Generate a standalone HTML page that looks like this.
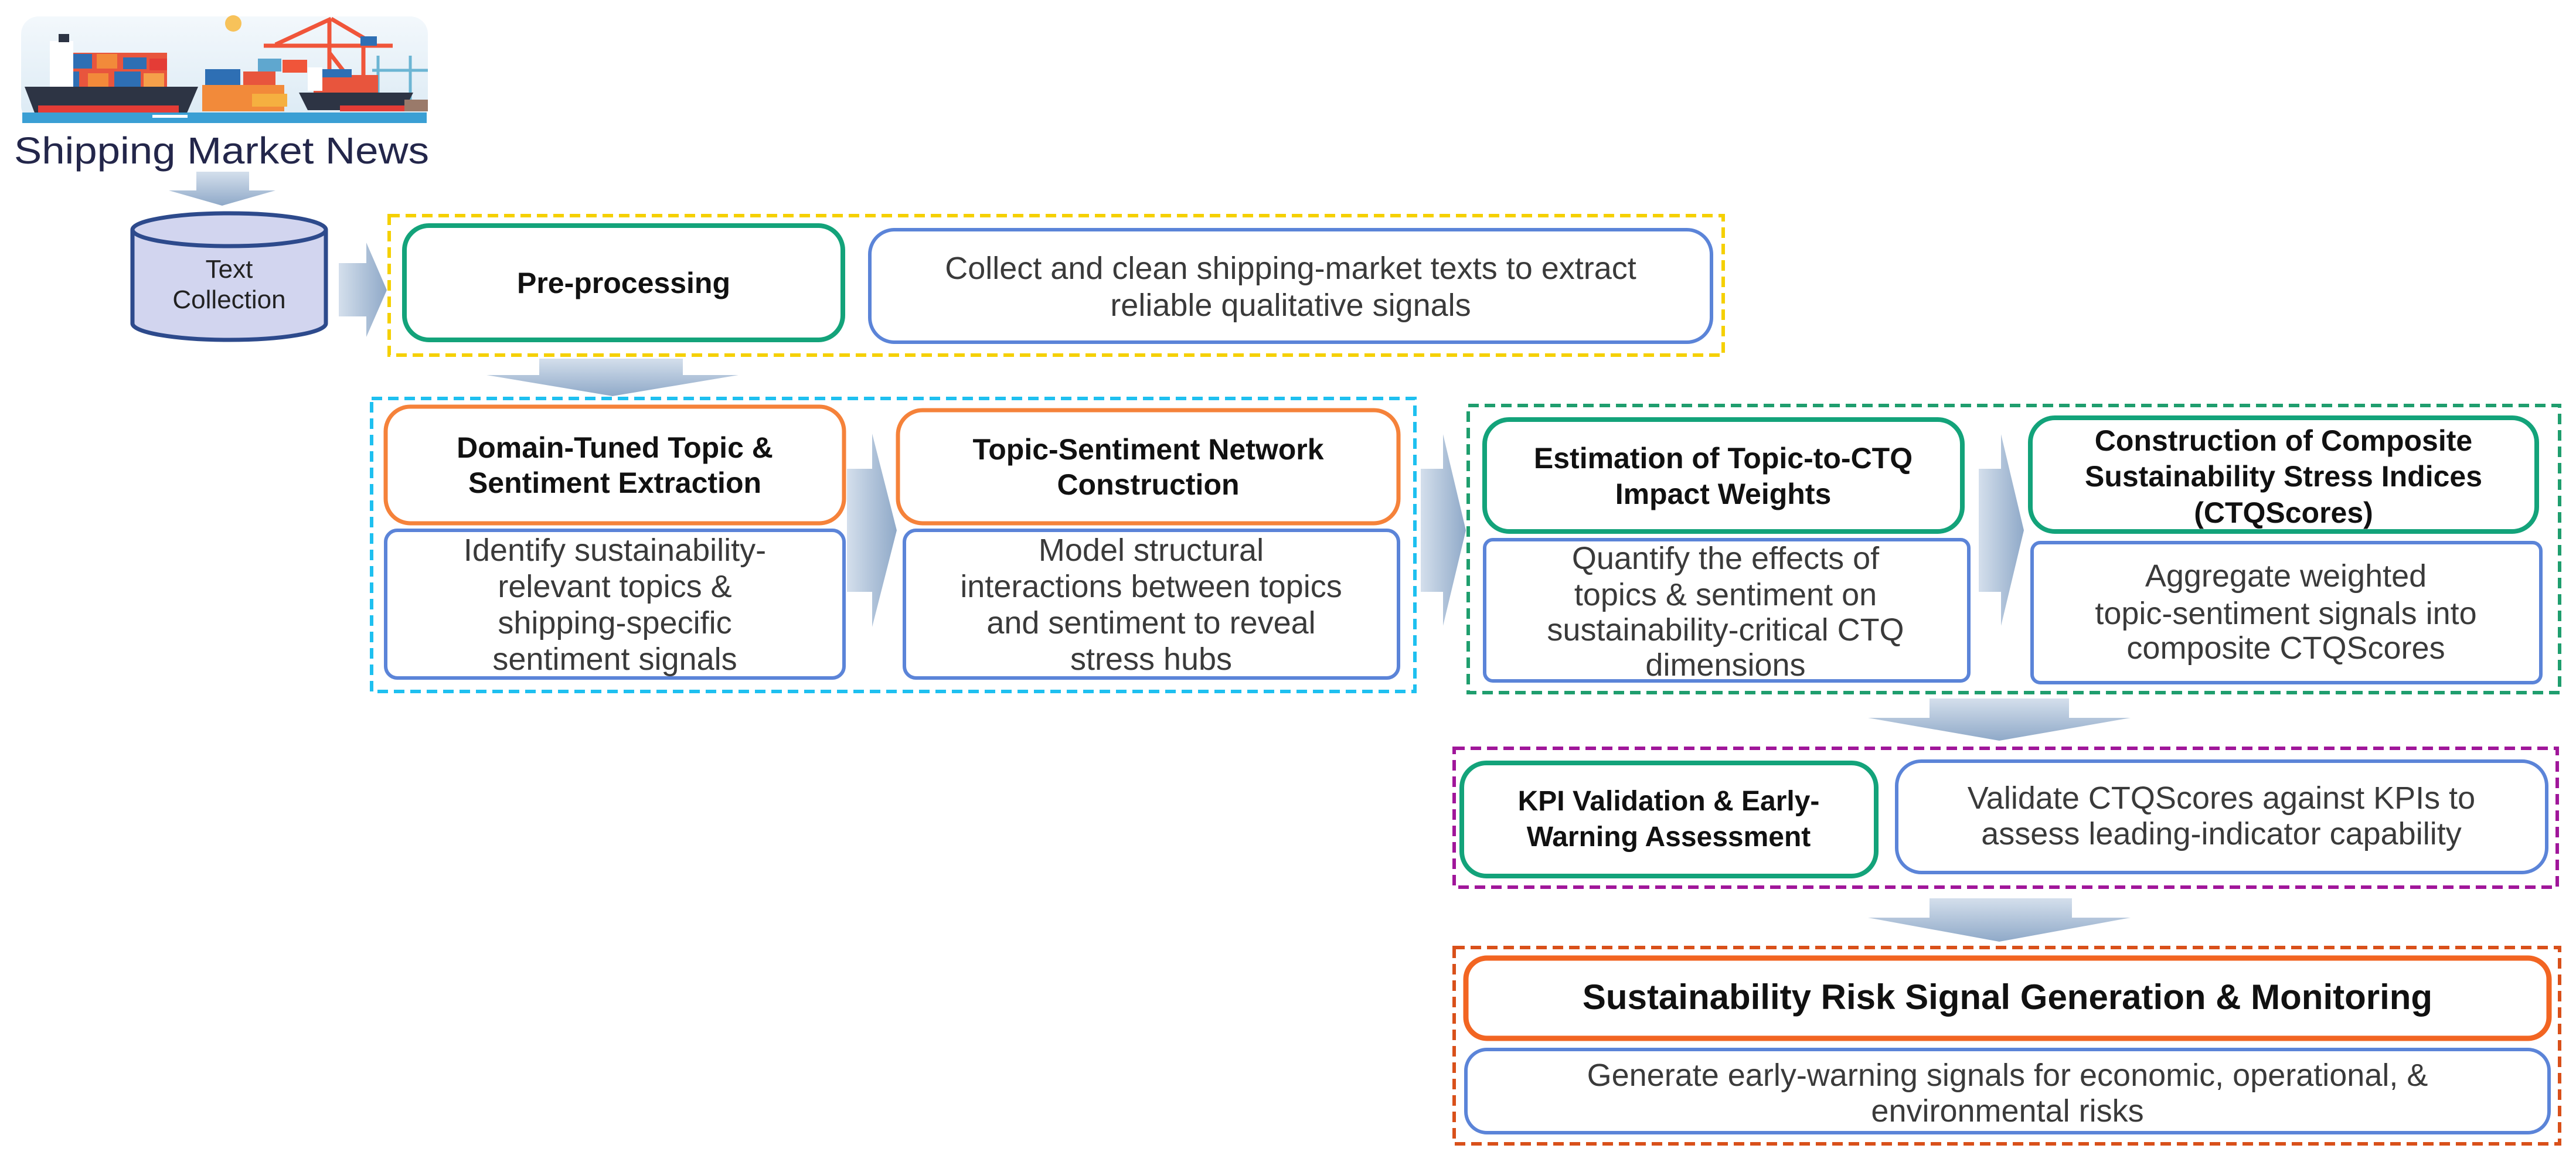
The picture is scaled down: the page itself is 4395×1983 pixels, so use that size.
<!DOCTYPE html>
<html><head><meta charset="utf-8"><style>
html,body{margin:0;padding:0;background:#fff;}
svg{display:block;}
.t{font-family:"Liberation Sans",sans-serif;font-weight:bold;fill:#111;text-anchor:middle;}
.d{font-family:"Liberation Sans",sans-serif;fill:#3a3a3a;text-anchor:middle;}
</style></head><body>
<svg width="4395" height="1983" viewBox="0 0 4395 1983" xmlns="http://www.w3.org/2000/svg">
<defs>
<linearGradient id="gv" x1="0" y1="0" x2="0" y2="1"><stop offset="0" stop-color="#d4dfec"/><stop offset="1" stop-color="#8fa9c8"/></linearGradient>
<linearGradient id="gh" x1="0" y1="0" x2="1" y2="0"><stop offset="0" stop-color="#d4dfec"/><stop offset="1" stop-color="#8fa9c8"/></linearGradient>
<linearGradient id="sky" x1="0" y1="0" x2="0" y2="1"><stop offset="0" stop-color="#f3f8fc"/><stop offset="1" stop-color="#dbeaf4"/></linearGradient>
</defs>

<!-- ship illustration -->
<rect x="36" y="28" width="694" height="182" rx="30" fill="url(#sky)"/>
<circle cx="398" cy="40" r="14" fill="#f7c25a"/>
<g stroke="#f0553a" stroke-width="7" fill="none">
<line x1="450" y1="78" x2="670" y2="78"/><line x1="565" y1="32" x2="470" y2="76"/><line x1="565" y1="32" x2="640" y2="76"/>
<line x1="562" y1="32" x2="562" y2="170"/><line x1="620" y1="78" x2="620" y2="170"/><line x1="562" y1="90" x2="620" y2="165"/>
</g>
<rect x="482" y="102" width="42" height="22" fill="#f0553a"/>
<rect x="615" y="62" width="28" height="16" fill="#2e6fb4"/>
<g stroke="#6cb5d3" stroke-width="5" fill="none"><line x1="645" y1="95" x2="645" y2="175"/><line x1="700" y1="95" x2="700" y2="175"/><line x1="635" y1="120" x2="730" y2="120"/></g>
<rect x="115" y="90" width="170" height="70" fill="#e8553d"/>
<rect x="122" y="92" width="35" height="25" fill="#2e6fb4"/><rect x="165" y="92" width="35" height="25" fill="#f28a3a"/><rect x="210" y="98" width="40" height="20" fill="#2e6fb4"/><rect x="255" y="100" width="30" height="20" fill="#e43c36"/>
<rect x="100" y="122" width="35" height="30" fill="#2e6fb4"/><rect x="150" y="125" width="35" height="28" fill="#f28a3a"/><rect x="195" y="122" width="45" height="30" fill="#2e6fb4"/><rect x="245" y="125" width="35" height="30" fill="#f5a04a"/>
<rect x="85" y="70" width="40" height="80" fill="#ffffff"/><rect x="100" y="58" width="18" height="14" fill="#2d3444"/>
<polygon points="42,148 338,148 318,195 60,195" fill="#2d3444"/>
<rect x="65" y="180" width="240" height="15" fill="#e43c36"/>
<rect x="345" y="145" width="140" height="45" fill="#f28a3a"/><rect x="350" y="118" width="60" height="27" fill="#2e6fb4"/><rect x="415" y="122" width="55" height="23" fill="#e8553d"/><rect x="440" y="100" width="40" height="22" fill="#5fa7cf"/>
<rect x="430" y="160" width="60" height="22" fill="#f5b040"/>
<rect x="535" y="128" width="110" height="32" fill="#e8553d"/><rect x="550" y="118" width="50" height="14" fill="#2e6fb4"/><rect x="525" y="115" width="25" height="40" fill="#ffffff"/>
<polygon points="510,158 705,158 690,188 525,188" fill="#2d3444"/>
<rect x="580" y="180" width="110" height="10" fill="#e43c36"/>
<rect x="690" y="170" width="40" height="20" fill="#9a7a6a"/>
<rect x="38" y="192" width="690" height="18" fill="#3a9fd4"/>
<rect x="260" y="196" width="60" height="5" fill="#ffffff"/>

<text x="378" y="279" font-family="Liberation Sans,sans-serif" font-size="64" fill="#23264a" text-anchor="middle" textLength="708" lengthAdjust="spacingAndGlyphs">Shipping Market News</text>

<polygon points="335,293 425,293 425,325 470,325 379,351 288,325 335,325" fill="url(#gv)"/>

<path d="M226,392 L226,552 A165,28 0 0 0 556,552 L556,392" fill="#d2d5ef" stroke="#2d4a8c" stroke-width="7"/>
<ellipse cx="391" cy="392" rx="165" ry="28" fill="#d2d5ef" stroke="#2d4a8c" stroke-width="7"/>
<text class="d" x="391" y="474" font-size="44" style="fill:#222">Text</text>
<text class="d" x="391" y="526" font-size="44" style="fill:#222">Collection</text>

<polygon points="578,449 625,449 625,414 660,495 625,575 625,540 578,540" fill="url(#gh)"/>

<g fill="none" stroke-width="6" stroke-dasharray="18 10">
<rect x="664" y="368" width="2276" height="238" stroke="#f5d000"/>
<rect x="634" y="680" width="1780" height="500" stroke="#1ec0f0"/>
<rect x="2505" y="692" width="1862" height="490" stroke="#1f9e6e"/>
<rect x="2481" y="1277" width="1882" height="237" stroke="#a0169a"/>
<rect x="2481" y="1617" width="1886" height="335" stroke="#d9501a"/>
</g>

<polygon points="920,612 1165,612 1165,640 1260,640 1045,676 830,640 920,640" fill="url(#gv)"/>
<polygon points="1445,800 1488,800 1488,740 1530,905 1488,1070 1488,1010 1445,1010" fill="url(#gh)"/>
<polygon points="2424,800 2462,800 2462,741 2501,905 2462,1068 2462,1010 2424,1010" fill="url(#gh)"/>
<polygon points="3376,800 3414,800 3414,741 3453,905 3414,1068 3414,1010 3376,1010" fill="url(#gh)"/>
<polygon points="3292,1192 3530,1192 3530,1225 3635,1225 3411,1264 3187,1225 3292,1225" fill="url(#gv)"/>
<polygon points="3292,1533 3535,1533 3535,1566 3635,1566 3411,1607 3187,1566 3292,1566" fill="url(#gv)"/>

<g fill="#fff">
<rect x="690" y="385" width="748" height="195" rx="42" stroke="#13a37a" stroke-width="8"/>
<rect x="1484" y="392" width="1436" height="192" rx="42" stroke="#5b84d8" stroke-width="6"/>
<rect x="658" y="694" width="782" height="199" rx="42" stroke="#f5823a" stroke-width="7"/>
<rect x="658" y="905" width="782" height="252" rx="20" stroke="#5b84d8" stroke-width="6"/>
<rect x="1532" y="700" width="854" height="193" rx="42" stroke="#f5823a" stroke-width="7"/>
<rect x="1543" y="905" width="843" height="252" rx="20" stroke="#5b84d8" stroke-width="6"/>
<rect x="2533" y="716" width="815" height="191" rx="42" stroke="#13a37a" stroke-width="8"/>
<rect x="2533" y="921" width="826" height="241" rx="14" stroke="#5b84d8" stroke-width="6"/>
<rect x="3464" y="713" width="864" height="194" rx="42" stroke="#13a37a" stroke-width="8"/>
<rect x="3467" y="926" width="868" height="239" rx="14" stroke="#5b84d8" stroke-width="6"/>
<rect x="2494" y="1302" width="707" height="193" rx="42" stroke="#13a37a" stroke-width="8"/>
<rect x="3236" y="1299" width="1109" height="190" rx="42" stroke="#5b84d8" stroke-width="6"/>
<rect x="2501" y="1635" width="1848" height="137" rx="36" stroke="#f26522" stroke-width="9"/>
<rect x="2501" y="1791" width="1848" height="142" rx="36" stroke="#5b84d8" stroke-width="6"/>
</g>

<text class="t" x="1064" y="500" font-size="50">Pre-processing</text>
<text class="d" x="2202" y="476" font-size="54">Collect and clean shipping-market texts to extract</text>
<text class="d" x="2202" y="539" font-size="54">reliable qualitative signals</text>

<text class="t" x="1049" y="781" font-size="50">Domain-Tuned Topic &amp;</text>
<text class="t" x="1049" y="841" font-size="50">Sentiment Extraction</text>
<text class="d" x="1049" y="957" font-size="54">Identify sustainability-</text>
<text class="d" x="1049" y="1019" font-size="54">relevant topics &amp;</text>
<text class="d" x="1049" y="1081" font-size="54">shipping-specific</text>
<text class="d" x="1049" y="1143" font-size="54">sentiment signals</text>

<text class="t" x="1959" y="784" font-size="50">Topic-Sentiment Network</text>
<text class="t" x="1959" y="844" font-size="50">Construction</text>
<text class="d" x="1964" y="957" font-size="54">Model structural</text>
<text class="d" x="1964" y="1019" font-size="54">interactions between topics</text>
<text class="d" x="1964" y="1081" font-size="54">and sentiment to reveal</text>
<text class="d" x="1964" y="1143" font-size="54">stress hubs</text>

<text class="t" x="2940" y="799" font-size="50">Estimation of Topic-to-CTQ</text>
<text class="t" x="2940" y="860" font-size="50">Impact Weights</text>
<text class="d" x="2944" y="971" font-size="54">Quantify the effects of</text>
<text class="d" x="2944" y="1033" font-size="54">topics &amp; sentiment on</text>
<text class="d" x="2944" y="1093" font-size="54">sustainability-critical CTQ</text>
<text class="d" x="2944" y="1153" font-size="54">dimensions</text>

<text class="t" x="3896" y="769" font-size="50">Construction of Composite</text>
<text class="t" x="3896" y="830" font-size="50">Sustainability Stress Indices</text>
<text class="t" x="3896" y="892" font-size="50">(CTQScores)</text>
<text class="d" x="3900" y="1001" font-size="54">Aggregate weighted</text>
<text class="d" x="3900" y="1065" font-size="54">topic-sentiment signals into</text>
<text class="d" x="3900" y="1124" font-size="54">composite CTQScores</text>

<text class="t" x="2847" y="1383" font-size="48">KPI Validation &amp; Early-</text>
<text class="t" x="2847" y="1444" font-size="48">Warning Assessment</text>
<text class="d" x="3790" y="1380" font-size="54">Validate CTQScores against KPIs to</text>
<text class="d" x="3790" y="1441" font-size="54">assess leading-indicator capability</text>

<text class="t" x="3425" y="1722" font-size="60">Sustainability Risk Signal Generation &amp; Monitoring</text>
<text class="d" x="3425" y="1853" font-size="54">Generate early-warning signals for economic, operational, &amp;</text>
<text class="d" x="3425" y="1914" font-size="54">environmental risks</text>
</svg>
</body></html>
